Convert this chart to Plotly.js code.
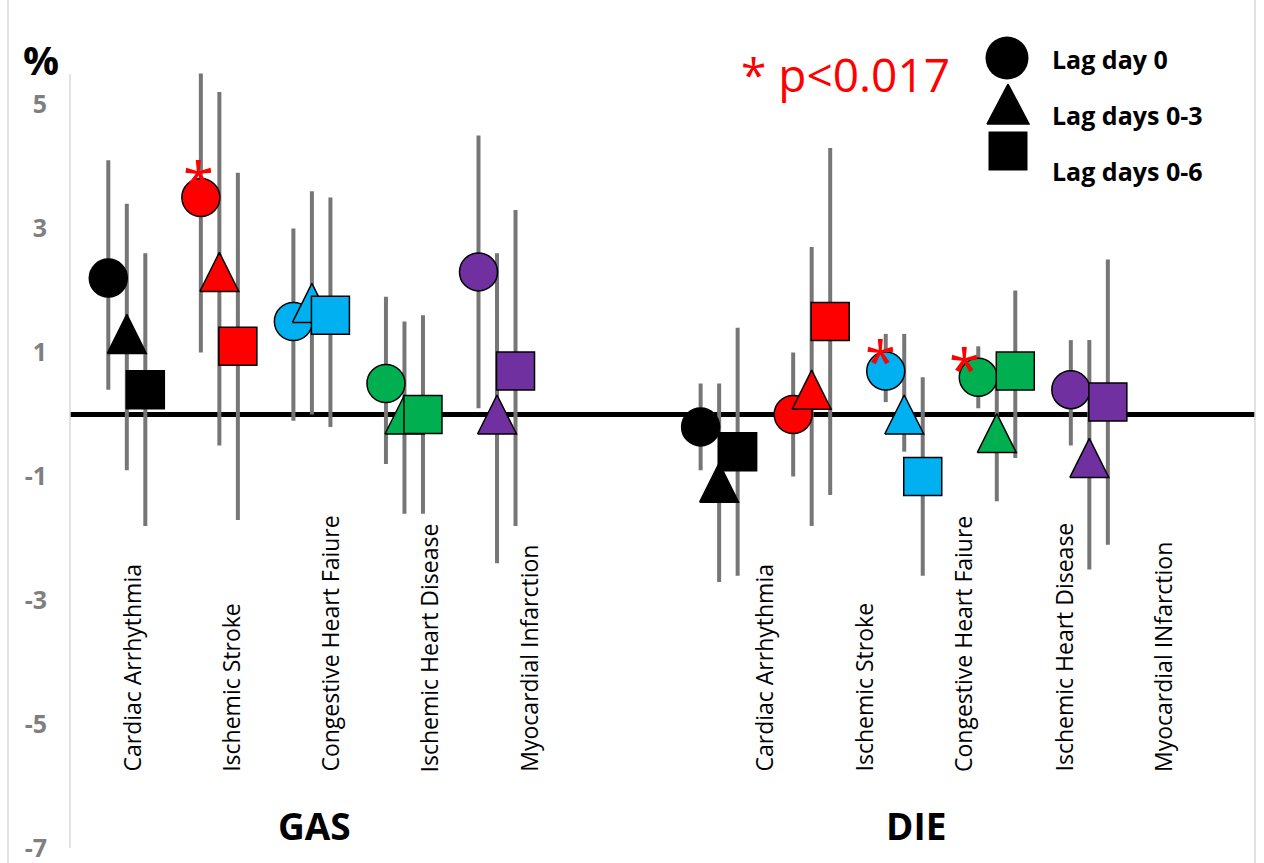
<!DOCTYPE html>
<html><head><meta charset="utf-8">
<script src="https://cdn.plot.ly/plotly-3.0.1.min.js"></script>
<style>html,body{margin:0;padding:0;background:#fff}#chart{width:1264px;height:863px}</style>
</head><body><div id="chart"></div>
<script>
// ---------------- DATA ----------------
const gasLabels = ['Cardiac Arrhythmia','Ischemic Stroke','Congestive Heart Faiure','Ischemic Heart Disease','Myocardial Infarction'];
const dieLabels = ['Cardiac Arrhythmia','Ischemic Stroke','Congestive Heart Faiure','Ischemic Heart Disease','Myocardial INfarction'];
const groupNames = ['GAS','DIE'];
const lagNames = ['Lag day 0','Lag days 0-3','Lag days 0-6'];
const outcomeColors = ['#000000','#ff0000','#00b0f0','#00b050','#7030a0'];
const yTickVals = [5,3,1,-1,-3,-5,-7];

// GAS
const gasLag0    = [2.2, 3.5, 1.5, 0.5, 2.3];
const gasLag0Lo  = [0.4, 1.0, -0.1, -0.8, 0.1];
const gasLag0Hi  = [4.1, 5.5, 3.0, 1.9, 4.5];
const gasLag03   = [1.3, 2.3, 1.8, 0.0, 0.0];
const gasLag03Lo = [-0.9, -0.5, 0.0, -1.6, -2.4];
const gasLag03Hi = [3.4, 5.2, 3.6, 1.5, 2.6];
const gasLag06   = [0.4, 1.1, 1.6, 0.0, 0.7];
const gasLag06Lo = [-1.8, -1.7, -0.2, -1.6, -1.8];
const gasLag06Hi = [2.6, 3.9, 3.5, 1.6, 3.3];
// DIE
const dieLag0    = [-0.2, 0.0, 0.7, 0.6, 0.4];
const dieLag0Lo  = [-0.9, -1.0, 0.2, 0.1, -0.5];
const dieLag0Hi  = [0.5, 1.0, 1.3, 1.1, 1.2];
const dieLag03   = [-1.1, 0.4, 0.0, -0.3, -0.7];
const dieLag03Lo = [-2.7, -1.8, -0.6, -1.4, -2.5];
const dieLag03Hi = [0.5, 2.7, 1.3, 0.5, 1.2];
const dieLag06   = [-0.6, 1.5, -1.0, 0.7, 0.2];
const dieLag06Lo = [-2.6, -1.3, -2.6, -0.7, -2.1];
const dieLag06Hi = [1.4, 4.3, 0.6, 2.0, 2.5];
// significance (p<0.017), lag day 0
const gasLag0Sig = [false, true, false, false, false];
const dieLag0Sig = [false, false, true, true, false];
const sigText = '* p<0.017';

// ---------------- LAYOUT GEOMETRY ----------------
const W = 1264, H = 863, ML = 70, MR = 9;
const X0PX = 108.3, XU = 92.55;   // pixel of first category, px per category
const Y0PX = 414.5, YU = 62;      // pixel of zero, px per unit
const px2u = px => (px - X0PX) / XU;
const py2v = py => (Y0PX - py) / YU;
const groupStart = [0, 6.4];
const lagOffset = [0, 0.2, 0.4];
const labelX0 = [131, 763], labelStep = [99.3, 100];
const starNudge = [[-2, -25], [-5, -19], [-14, -17]];
const MS = 38;          // marker size
const TRI = 19.5;       // triangle half size px
const FONT = '"Open Sans", "Noto Sans", sans-serif';

const groups = [
  {lags: [[gasLag0, gasLag0Lo, gasLag0Hi], [gasLag03, gasLag03Lo, gasLag03Hi], [gasLag06, gasLag06Lo, gasLag06Hi]], sig: gasLag0Sig, labels: gasLabels},
  {lags: [[dieLag0, dieLag0Lo, dieLag0Hi], [dieLag03, dieLag03Lo, dieLag03Hi], [dieLag06, dieLag06Lo, dieLag06Hi]], sig: dieLag0Sig, labels: dieLabels}
];

const traces = [];
// error bars
const bx = [], by = [];
groups.forEach((g, gi) => g.lags.forEach((lag, k) => lag[0].forEach((v, i) => {
  const x = groupStart[gi] + i + lagOffset[k];
  bx.push(x, x, null); by.push(lag[1][i], lag[2][i], null);
})));
traces.push({x: bx, y: by, mode: 'lines', line: {color: '#767676', width: 4}, hoverinfo: 'skip'});

function triTrace(xc, yc, color, hw, hh) {
  const dx = hw / XU, dy = hh / YU;
  return {x: [xc - dx, xc + dx, xc, xc - dx], y: [yc - dy, yc - dy, yc + dy, yc - dy],
          mode: 'lines', fill: 'toself', fillcolor: color,
          line: {color: '#000', width: 1.5}, hoverinfo: 'skip'};
}

// circles
const cx = [], cy = [], cc = [];
groups.forEach((g, gi) => g.lags[0][0].forEach((v, i) => { cx.push(groupStart[gi] + i); cy.push(v); cc.push(outcomeColors[i]); }));
traces.push({x: cx, y: cy, mode: 'markers', marker: {symbol: 'circle', size: MS, color: cc, line: {color: '#000', width: 1.5}}});
// triangles
groups.forEach((g, gi) => g.lags[1][0].forEach((v, i) => {
  traces.push(triTrace(groupStart[gi] + i + lagOffset[1], v, outcomeColors[i], TRI, TRI));
}));
// squares
const sx = [], sy = [], sc = [];
groups.forEach((g, gi) => g.lags[2][0].forEach((v, i) => { sx.push(groupStart[gi] + i + lagOffset[2]); sy.push(v); sc.push(outcomeColors[i]); }));
traces.push({x: sx, y: sy, mode: 'markers', marker: {symbol: 'square', size: MS, color: sc, line: {color: '#000', width: 1.5}}});

// legend symbols
traces.push({x: [px2u(1007)], y: [py2v(58)], mode: 'markers', marker: {symbol: 'circle', size: 43, color: '#000'}});
traces.push(triTrace(px2u(1008), py2v(104), '#000', 21, 20));
traces.push({x: [px2u(1008)], y: [py2v(151)], mode: 'markers', marker: {symbol: 'square', size: 39, color: '#000'}});

// ---------------- ANNOTATIONS ----------------
const pw = W - ML - MR;
const xp = px => (px - ML) / pw;
const ann = [];
groups.forEach((g, gi) => g.labels.forEach((t, i) => {
  ann.push({text: t, x: px2u(labelX0[gi] + labelStep[gi] * i), y: py2v(774), xref: 'x', yref: 'y',
    textangle: -90, xanchor: 'center', yanchor: 'bottom', showarrow: false,
    font: {family: FONT, size: 23, color: '#000'}});
}));
const groupCenters = [314, 916];
groupNames.forEach((t, gi) => ann.push({text: '<b>' + t + '</b>', x: px2u(groupCenters[gi]), y: py2v(825),
  xref: 'x', yref: 'y', showarrow: false, xanchor: 'center', yanchor: 'middle',
  font: {family: FONT, size: 37, color: '#000'}}));
// asterisks
let sn = 0;
groups.forEach((g, gi) => g.sig.forEach((s, i) => {
  if (!s) return;
  const v = g.lags[0][0][i];
  const nx = starNudge[sn][0], ny = starNudge[sn][1]; sn++;
  ann.push({text: '*', x: groupStart[gi] + i + nx / XU, y: v - ny / YU, xref: 'x', yref: 'y',
    showarrow: false, xanchor: 'center', yanchor: 'middle', yshift: -8,
    font: {family: FONT, size: 56, color: '#ff0000'}});
}));
ann.push({text: sigText, x: px2u(845), y: py2v(74), xref: 'x', yref: 'y', showarrow: false,
  xanchor: 'center', yanchor: 'middle', font: {family: FONT, size: 46, color: '#ff0000'}});
const legendY = [59, 115, 171];
lagNames.forEach((t, k) => ann.push({text: '<b>' + t + '</b>', x: px2u(1050), y: py2v(legendY[k]),
  xref: 'x', yref: 'y', showarrow: false, xanchor: 'left', yanchor: 'middle',
  font: {family: FONT, size: 25, color: '#000'}}));
ann.push({text: '<b>%</b>', x: xp(41), y: 1 - 59 / H, xref: 'paper', yref: 'paper', showarrow: false,
  xanchor: 'center', yanchor: 'middle', font: {family: FONT, size: 40, color: '#000'}});

const layout = {
  width: W, height: H, margin: {l: ML, r: MR, t: 0, b: 0},
  paper_bgcolor: '#fff', plot_bgcolor: 'rgba(0,0,0,0)', showlegend: false,
  xaxis: {range: [px2u(ML), px2u(W - MR)], visible: false, fixedrange: true},
  yaxis: {range: [py2v(H), py2v(0)], tickvals: yTickVals, ticktext: yTickVals.map(String),
    showgrid: false, zeroline: false, showline: false, ticks: '', ticklabelstandoff: 22,
    ticklabeloverflow: 'allow',
    tickfont: {family: FONT, size: 25, color: '#7f7f7f', weight: 'bold'}, fixedrange: true},
  shapes: [
    {type: 'line', xref: 'paper', yref: 'y', x0: 0, x1: 1, y0: 0, y1: 0, line: {color: '#000', width: 5}, layer: 'below'},
    {type: 'line', xref: 'paper', yref: 'paper', x0: 0, x1: 0, y0: 1 - 74 / H, y1: 1 - 848 / H, line: {color: '#d9d9d9', width: 1.5}},
    {type: 'line', xref: 'paper', yref: 'paper', x0: xp(8), x1: xp(8), y0: 0, y1: 1, line: {color: '#d9d9d9', width: 1.5}},
    {type: 'line', xref: 'paper', yref: 'paper', x0: xp(1255), x1: xp(1255), y0: 0, y1: 1, line: {color: '#d9d9d9', width: 1.5}}
  ],
  annotations: ann
};
Plotly.newPlot('chart', traces, layout, {displayModeBar: false, staticPlot: true});
</script></body></html>
